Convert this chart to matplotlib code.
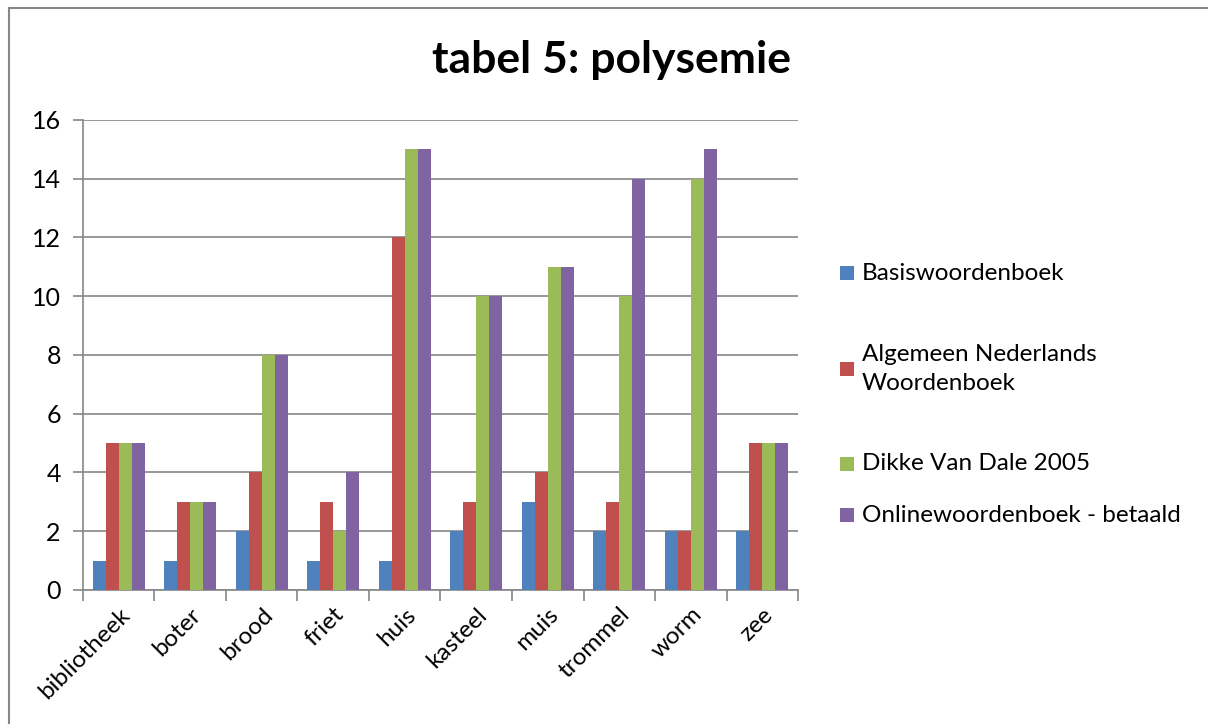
import numpy as np
import matplotlib
matplotlib.use('Agg')
import matplotlib.pyplot as plt
from matplotlib.patches import Rectangle
from matplotlib.lines import Line2D

# words and number of meanings per dictionary
words = ['bibliotheek', 'boter', 'brood', 'friet', 'huis',
         'kasteel', 'muis', 'trommel', 'worm', 'zee']
basis = [1, 1, 2, 1, 1, 2, 3, 2, 2, 2]
anw = [5, 3, 4, 3, 12, 3, 4, 3, 2, 5]
van_dale = [5, 3, 8, 2, 15, 10, 11, 10, 14, 5]
online = [5, 3, 8, 4, 15, 10, 11, 14, 15, 5]

series_names = ['Basiswoordenboek', 'Algemeen Nederlands\nWoordenboek',
                'Dikke Van Dale 2005', 'Onlinewoordenboek - betaald']
colors = ['#4F81BD', '#C0504D', '#9BBB59', '#8064A2']

plt.rcParams['font.family'] = ['Lato', 'DejaVu Sans']

fig = plt.figure(figsize=(12.08, 7.24), dpi=100)
ax = fig.add_axes([0.0687, 0.1851, 0.5919, 0.6492])

x = np.arange(len(words))
bw = 1 / 5.5
all_series = [basis, anw, van_dale, online]
for i, vals in enumerate(all_series):
    ax.bar(x + (i - 1.5) * bw, vals, width=bw, color=colors[i], zorder=3)

ax.set_xlim(-0.5, len(words) - 0.5)
ax.set_ylim(0, 16)
ax.set_yticks(range(0, 17, 2))
ax.yaxis.grid(True, color='#868686', linewidth=1.2, zorder=0)

# category labels at centers, tick marks on the boundaries
ax.set_xticks(x)
ax.set_xticklabels(words, rotation=45, ha='right', rotation_mode='anchor', fontsize=17.5)
ax.set_xticks(np.arange(-0.5, len(words)), minor=True)
ax.tick_params(axis='x', which='major', length=0, pad=10)
ax.tick_params(axis='x', which='minor', length=8, color='#868686', width=1.2)
ax.tick_params(axis='y', length=7, color='#868686', width=1.2, labelsize=18, pad=9)

for side in ['top', 'right']:
    ax.spines[side].set_visible(False)
for side in ['left', 'bottom']:
    ax.spines[side].set_color('#868686')
    ax.spines[side].set_linewidth(1.2)

fig.text(0.506, 0.917, 'tabel 5: polysemie', fontsize=32, fontweight='bold',
         ha='center', va='center')

# legend drawn by hand to keep Excel's spacing
leg_y = [273, 369, 464, 515]
for name, c, yp in zip(series_names, colors, leg_y):
    yf = 1 - yp / 724
    fig.patches.append(Rectangle((840 / 1208, yf - 7 / 724), 14 / 1208, 14 / 724,
                                 transform=fig.transFigure, facecolor=c,
                                 edgecolor='none'))
    fig.text(862 / 1208, yf, name, fontsize=17.5, ha='left', va='center',
             linespacing=1.5)

# chart border (only top and left edges are inside the crop)
fig.add_artist(Line2D([9 / 1208, 9 / 1208], [0, 1 - 8 / 724],
                      transform=fig.transFigure, color='#868686', linewidth=1.5))
fig.add_artist(Line2D([9 / 1208, 1], [1 - 8 / 724, 1 - 8 / 724],
                      transform=fig.transFigure, color='#868686', linewidth=1.5))

fig.savefig('out.png', dpi=100)
